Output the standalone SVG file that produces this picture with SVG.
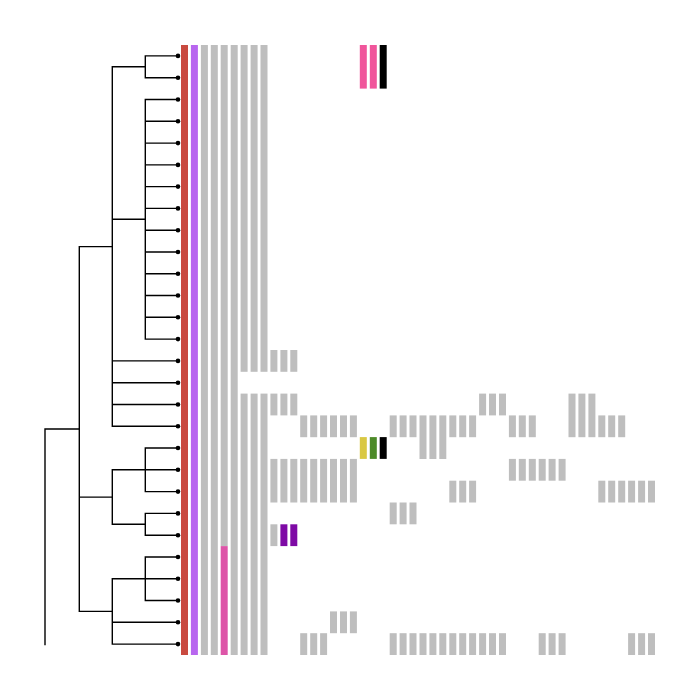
<svg xmlns="http://www.w3.org/2000/svg" width="700" height="700" viewBox="0 0 700 700">
<style>
.e{fill:none;stroke:#000;stroke-width:1.4;stroke-linecap:square}
.d{fill:#000}
.g{fill:#bebebe}
.r{fill:#c94a40}
.p{fill:#b866ef}
.k{fill:#dd55a8}
.m{fill:#f0559b}
.b{fill:#000}
.y{fill:#d9c843}
.n{fill:#4d8a29}
.v{fill:#7e0aa5}
</style>
<rect width="700" height="700" fill="#fff"/>
<g id="connectors">
<path class="e" d="M45,429V644.5M45,429H79.3"/>
<path class="e" d="M79.3,246.6V611.4M79.3,246.6H112.3M79.3,497.1H112.3M79.3,611.4H112.3"/>
<path class="e" d="M112.3,66.8V426.3M112.3,66.8H145.3M112.3,219.3H145.3M112.3,360.9H178M112.3,382.7H178M112.3,404.5H178M112.3,426.3H178"/>
<path class="e" d="M145.3,55.9V77.7M145.3,55.9H178M145.3,77.7H178"/>
<path class="e" d="M145.3,99.5V339.1M145.3,99.5H178M145.3,121.3H178M145.3,143.1H178M145.3,164.9H178M145.3,186.6H178M145.3,208.4H178M145.3,230.2H178M145.3,252H178M145.3,273.8H178M145.3,295.5H178M145.3,317.3H178M145.3,339.1H178"/>
<path class="e" d="M112.3,469.8V524.3M112.3,469.8H145.3M112.3,524.3H145.3"/>
<path class="e" d="M145.3,448V491.6M145.3,448H178M145.3,469.8H178M145.3,491.6H178"/>
<path class="e" d="M145.3,513.4V535.2M145.3,513.4H178M145.3,535.2H178"/>
<path class="e" d="M112.3,578.7V644.1M112.3,578.7H145.3M112.3,622.3H178M112.3,644.1H178"/>
<path class="e" d="M145.3,557V600.5M145.3,557H178M145.3,578.7H178M145.3,600.5H178"/>
</g>
<g id="leaf0"><circle class="d" cx="178" cy="55.9" r="2.3"/></g>
<g id="leaf1"><circle class="d" cx="178" cy="77.7" r="2.3"/></g>
<g id="leaf2"><circle class="d" cx="178" cy="99.5" r="2.3"/></g>
<g id="leaf3"><circle class="d" cx="178" cy="121.3" r="2.3"/></g>
<g id="leaf4"><circle class="d" cx="178" cy="143.1" r="2.3"/></g>
<g id="leaf5"><circle class="d" cx="178" cy="164.9" r="2.3"/></g>
<g id="leaf6"><circle class="d" cx="178" cy="186.6" r="2.3"/></g>
<g id="leaf7"><circle class="d" cx="178" cy="208.4" r="2.3"/></g>
<g id="leaf8"><circle class="d" cx="178" cy="230.2" r="2.3"/></g>
<g id="leaf9"><circle class="d" cx="178" cy="252" r="2.3"/></g>
<g id="leaf10"><circle class="d" cx="178" cy="273.8" r="2.3"/></g>
<g id="leaf11"><circle class="d" cx="178" cy="295.5" r="2.3"/></g>
<g id="leaf12"><circle class="d" cx="178" cy="317.3" r="2.3"/></g>
<g id="leaf13"><circle class="d" cx="178" cy="339.1" r="2.3"/></g>
<g id="leaf14"><circle class="d" cx="178" cy="360.9" r="2.3"/></g>
<g id="leaf15"><circle class="d" cx="178" cy="382.7" r="2.3"/></g>
<g id="leaf16"><circle class="d" cx="178" cy="404.5" r="2.3"/></g>
<g id="leaf17"><circle class="d" cx="178" cy="426.3" r="2.3"/></g>
<g id="leaf18"><circle class="d" cx="178" cy="448" r="2.3"/></g>
<g id="leaf19"><circle class="d" cx="178" cy="469.8" r="2.3"/></g>
<g id="leaf20"><circle class="d" cx="178" cy="491.6" r="2.3"/></g>
<g id="leaf21"><circle class="d" cx="178" cy="513.4" r="2.3"/></g>
<g id="leaf22"><circle class="d" cx="178" cy="535.2" r="2.3"/></g>
<g id="leaf23"><circle class="d" cx="178" cy="557" r="2.3"/></g>
<g id="leaf24"><circle class="d" cx="178" cy="578.7" r="2.3"/></g>
<g id="leaf25"><circle class="d" cx="178" cy="600.5" r="2.3"/></g>
<g id="leaf26"><circle class="d" cx="178" cy="622.3" r="2.3"/></g>
<g id="leaf27"><circle class="d" cx="178" cy="644.1" r="2.3"/></g>
<g id="heatmap">
<rect class="r" x="181" y="45" width="7" height="610"/>
<rect class="p" x="190.9" y="45" width="7" height="610"/>
<rect class="g" x="200.9" y="45" width="7" height="610"/>
<rect class="g" x="210.8" y="45" width="7" height="610"/>
<rect class="g" x="220.7" y="45" width="7" height="501.1"/>
<rect class="k" x="220.7" y="546.1" width="7" height="108.9"/>
<rect class="g" x="230.7" y="45" width="7" height="610"/>
<rect class="g" x="240.6" y="45" width="7" height="326.8"/>
<rect class="g" x="240.6" y="393.6" width="7" height="261.4"/>
<rect class="g" x="250.6" y="45" width="7" height="326.8"/>
<rect class="g" x="250.6" y="393.6" width="7" height="261.4"/>
<rect class="g" x="260.5" y="45" width="7" height="326.8"/>
<rect class="g" x="260.5" y="393.6" width="7" height="261.4"/>
<!-- k9-11 -->
<rect class="g" x="270.4" y="350" width="7" height="21.8"/>
<rect class="g" x="280.4" y="350" width="7" height="21.8"/>
<rect class="g" x="290.3" y="350" width="7" height="21.8"/>
<rect class="g" x="270.4" y="393.6" width="7" height="21.8"/>
<rect class="g" x="280.4" y="393.6" width="7" height="21.8"/>
<rect class="g" x="290.3" y="393.6" width="7" height="21.8"/>
<rect class="g" x="270.4" y="458.9" width="7" height="43.6"/>
<rect class="g" x="280.4" y="458.9" width="7" height="43.6"/>
<rect class="g" x="290.3" y="458.9" width="7" height="43.6"/>
<rect class="g" x="270.4" y="524.3" width="7" height="21.8"/>
<rect class="v" x="280.4" y="524.3" width="7" height="21.8"/>
<rect class="v" x="290.3" y="524.3" width="7" height="21.8"/>
<!-- k12-14 -->
<rect class="g" x="300.2" y="415.4" width="7" height="21.8"/>
<rect class="g" x="310.2" y="415.4" width="7" height="21.8"/>
<rect class="g" x="320.1" y="415.4" width="7" height="21.8"/>
<rect class="g" x="300.2" y="458.9" width="7" height="43.6"/>
<rect class="g" x="310.2" y="458.9" width="7" height="43.6"/>
<rect class="g" x="320.1" y="458.9" width="7" height="43.6"/>
<rect class="g" x="300.2" y="633.2" width="7" height="21.8"/>
<rect class="g" x="310.2" y="633.2" width="7" height="21.8"/>
<rect class="g" x="320.1" y="633.2" width="7" height="21.8"/>
<!-- k15-17 -->
<rect class="g" x="330" y="415.4" width="7" height="21.8"/>
<rect class="g" x="340" y="415.4" width="7" height="21.8"/>
<rect class="g" x="349.9" y="415.4" width="7" height="21.8"/>
<rect class="g" x="330" y="458.9" width="7" height="43.6"/>
<rect class="g" x="340" y="458.9" width="7" height="43.6"/>
<rect class="g" x="349.9" y="458.9" width="7" height="43.6"/>
<rect class="g" x="330" y="611.4" width="7" height="21.8"/>
<rect class="g" x="340" y="611.4" width="7" height="21.8"/>
<rect class="g" x="349.9" y="611.4" width="7" height="21.8"/>
<!-- k18-20 -->
<rect class="m" x="359.8" y="45" width="7" height="43.6"/>
<rect class="m" x="369.8" y="45" width="7" height="43.6"/>
<rect class="b" x="379.7" y="45" width="7" height="43.6"/>
<rect class="y" x="359.8" y="437.1" width="7" height="21.8"/>
<rect class="n" x="369.8" y="437.1" width="7" height="21.8"/>
<rect class="b" x="379.7" y="437.1" width="7" height="21.8"/>
<!-- k21-23 -->
<rect class="g" x="389.7" y="415.4" width="7" height="21.8"/>
<rect class="g" x="399.6" y="415.4" width="7" height="21.8"/>
<rect class="g" x="409.5" y="415.4" width="7" height="21.8"/>
<rect class="g" x="389.7" y="502.5" width="7" height="21.8"/>
<rect class="g" x="399.6" y="502.5" width="7" height="21.8"/>
<rect class="g" x="409.5" y="502.5" width="7" height="21.8"/>
<rect class="g" x="389.7" y="633.2" width="7" height="21.8"/>
<rect class="g" x="399.6" y="633.2" width="7" height="21.8"/>
<rect class="g" x="409.5" y="633.2" width="7" height="21.8"/>
<!-- k24-26 -->
<rect class="g" x="419.5" y="415.4" width="7" height="43.6"/>
<rect class="g" x="429.4" y="415.4" width="7" height="43.6"/>
<rect class="g" x="439.3" y="415.4" width="7" height="43.6"/>
<rect class="g" x="419.5" y="633.2" width="7" height="21.8"/>
<rect class="g" x="429.4" y="633.2" width="7" height="21.8"/>
<rect class="g" x="439.3" y="633.2" width="7" height="21.8"/>
<!-- k27-29 -->
<rect class="g" x="449.3" y="415.4" width="7" height="21.8"/>
<rect class="g" x="459.2" y="415.4" width="7" height="21.8"/>
<rect class="g" x="469.1" y="415.4" width="7" height="21.8"/>
<rect class="g" x="449.3" y="480.7" width="7" height="21.8"/>
<rect class="g" x="459.2" y="480.7" width="7" height="21.8"/>
<rect class="g" x="469.1" y="480.7" width="7" height="21.8"/>
<rect class="g" x="449.3" y="633.2" width="7" height="21.8"/>
<rect class="g" x="459.2" y="633.2" width="7" height="21.8"/>
<rect class="g" x="469.1" y="633.2" width="7" height="21.8"/>
<!-- k30-32 -->
<rect class="g" x="479.1" y="393.6" width="7" height="21.8"/>
<rect class="g" x="489" y="393.6" width="7" height="21.8"/>
<rect class="g" x="499" y="393.6" width="7" height="21.8"/>
<rect class="g" x="479.1" y="633.2" width="7" height="21.8"/>
<rect class="g" x="489" y="633.2" width="7" height="21.8"/>
<rect class="g" x="499" y="633.2" width="7" height="21.8"/>
<!-- k33-35 -->
<rect class="g" x="508.9" y="415.4" width="7" height="21.8"/>
<rect class="g" x="518.8" y="415.4" width="7" height="21.8"/>
<rect class="g" x="528.8" y="415.4" width="7" height="21.8"/>
<rect class="g" x="508.9" y="458.9" width="7" height="21.8"/>
<rect class="g" x="518.8" y="458.9" width="7" height="21.8"/>
<rect class="g" x="528.8" y="458.9" width="7" height="21.8"/>
<!-- k36-38 -->
<rect class="g" x="538.7" y="458.9" width="7" height="21.8"/>
<rect class="g" x="548.6" y="458.9" width="7" height="21.8"/>
<rect class="g" x="558.6" y="458.9" width="7" height="21.8"/>
<rect class="g" x="538.7" y="633.2" width="7" height="21.8"/>
<rect class="g" x="548.6" y="633.2" width="7" height="21.8"/>
<rect class="g" x="558.6" y="633.2" width="7" height="21.8"/>
<!-- k39-41 -->
<rect class="g" x="568.5" y="393.6" width="7" height="43.6"/>
<rect class="g" x="578.4" y="393.6" width="7" height="43.6"/>
<rect class="g" x="588.4" y="393.6" width="7" height="43.6"/>
<!-- k42-44 -->
<rect class="g" x="598.3" y="415.4" width="7" height="21.8"/>
<rect class="g" x="608.2" y="415.4" width="7" height="21.8"/>
<rect class="g" x="618.2" y="415.4" width="7" height="21.8"/>
<rect class="g" x="598.3" y="480.7" width="7" height="21.8"/>
<rect class="g" x="608.2" y="480.7" width="7" height="21.8"/>
<rect class="g" x="618.2" y="480.7" width="7" height="21.8"/>
<!-- k45-47 -->
<rect class="g" x="628.1" y="480.7" width="7" height="21.8"/>
<rect class="g" x="638.1" y="480.7" width="7" height="21.8"/>
<rect class="g" x="648" y="480.7" width="7" height="21.8"/>
<rect class="g" x="628.1" y="633.2" width="7" height="21.8"/>
<rect class="g" x="638.1" y="633.2" width="7" height="21.8"/>
<rect class="g" x="648" y="633.2" width="7" height="21.8"/>
</g>
</svg>
